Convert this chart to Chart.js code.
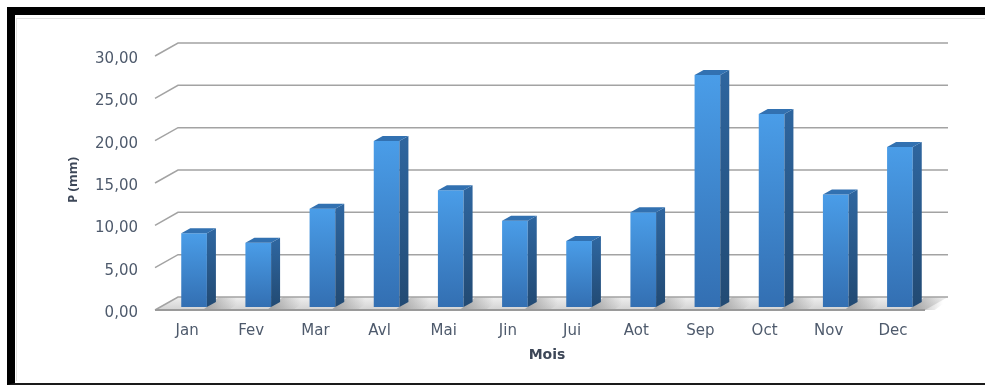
<!DOCTYPE html>
<html>
<head>
<meta charset="utf-8">
<script src="https://cdn.jsdelivr.net/npm/chart.js@4"></script>
<style>
  body { margin: 0; background: #fff; }
  #wrap { position: relative; width: 985px; height: 387px; overflow: hidden; }
  #chart { position: absolute; left: 0; top: 0; }
  #frame {
    position: absolute; left: 7px; top: 7px; width: 990px; height: 368px;
    border-top: 8px solid #000; border-left: 8px solid #000; border-bottom: 2px solid #1a1a1a;
    pointer-events: none;
  }
  #inner {
    position: absolute; left: 16px; top: 18px; right: 0; bottom: 6px;
    border-top: 1px solid #e2e2e2; border-left: 1px solid #e2e2e2;
    pointer-events: none;
  }
</style>
</head>
<body>
<div id="wrap">
  <canvas id="chart" width="985" height="387"></canvas>
  <div id="frame"></div>
  <div id="inner"></div>
</div>
<script>
const months = ['Jan', 'Fev', 'Mar', 'Avl', 'Mai', 'Jin', 'Jui', 'Aot', 'Sep', 'Oct', 'Nov', 'Dec'];
const rain = [8.7, 7.6, 11.6, 19.6, 13.8, 10.2, 7.8, 11.2, 27.4, 22.8, 13.3, 18.9];
const yTicks = [0, 5, 10, 15, 20, 25, 30];

// 3D look: bars sit mid-depth, labels on the front edge, gridlines on the back wall
const front = { dx: -7, dy: 3 };
const back = { dx: 16, dy: -10 };
const bar3d = { dx: 9, dy: -5 };

const fmtTick = (v) => Number(v).toFixed(2).replace('.', ',');
const tickColor = '#4e5a6c';
const titleColor = '#3d4758';

function poly(ctx, pts, fill) {
  ctx.beginPath();
  ctx.moveTo(pts[0][0], pts[0][1]);
  for (const p of pts.slice(1)) ctx.lineTo(p[0], p[1]);
  ctx.closePath();
  ctx.fillStyle = fill;
  ctx.fill();
}

const wallPlugin = {
  id: 'wall',
  beforeDatasetsDraw(chart) {
    const { ctx, chartArea: a, scales: { y } } = chart;
    const y0 = y.getPixelForValue(0);
    ctx.save();

    // floor
    const fl = [
      [a.left + front.dx, y0 + front.dy], [a.right + front.dx, y0 + front.dy],
      [a.right + back.dx, y0 + back.dy], [a.left + back.dx, y0 + back.dy],
    ];
    const fg = ctx.createLinearGradient(0, y0 + back.dy, 0, y0 + front.dy);
    fg.addColorStop(0, '#efefef');
    fg.addColorStop(1, '#d2d2d2');
    poly(ctx, fl, fg);

    // bar shadows falling on the floor
    const meta = chart.getDatasetMeta(0);
    meta.data.forEach((el) => {
      const r = el.x + el.width / 2;
      const sg = ctx.createLinearGradient(r, 0, r + 30, 0);
      sg.addColorStop(0, 'rgba(150,150,150,0.75)');
      sg.addColorStop(1, 'rgba(150,150,150,0)');
      poly(ctx, [[r - 4, y0 + front.dy], [r + 22, y0 + front.dy], [r + 40, y0 + back.dy], [r + 12, y0 + back.dy]], sg);
    });

    // gridlines on the back wall with the slanted side-wall stubs
    ctx.lineWidth = 1.5;
    ctx.strokeStyle = '#a3a3a3';
    for (const v of yTicks) {
      const yy = y.getPixelForValue(v);
      ctx.beginPath();
      ctx.moveTo(a.left + front.dx, yy + front.dy);
      ctx.lineTo(a.left + back.dx, yy + back.dy);
      ctx.lineTo(a.right + back.dx, yy + back.dy);
      ctx.stroke();
    }

    // floor front edge
    ctx.lineWidth = 2;
    ctx.strokeStyle = '#9a9a9a';
    ctx.beginPath();
    ctx.moveTo(a.left + front.dx, y0 + front.dy);
    ctx.lineTo(a.right + front.dx, y0 + front.dy);
    ctx.stroke();
    ctx.restore();
  },
  afterDatasetsDraw(chart) {
    const { ctx } = chart;
    ctx.save();
    chart.getDatasetMeta(0).data.forEach((el) => {
      const l = el.x - el.width / 2;
      const r = el.x + el.width / 2;
      const t = el.y;
      const b = el.base;
      const sg = ctx.createLinearGradient(0, t, 0, b);
      sg.addColorStop(0, '#2e659e');
      sg.addColorStop(1, '#224a73');
      poly(ctx, [[r, t], [r + bar3d.dx, t + bar3d.dy], [r + bar3d.dx, b + bar3d.dy], [r, b]], sg);
      poly(ctx, [[l, t], [l + bar3d.dx, t + bar3d.dy], [r + bar3d.dx, t + bar3d.dy], [r, t]], '#3271b1');
    });
    ctx.restore();
  },
};

function barFill(c) {
  const chart = c.chart;
  const y = chart.scales.y;
  if (!y || !chart.chartArea) return '#3f86d0';
  const top = y.getPixelForValue(c.raw);
  const bottom = y.getPixelForValue(0);
  const g = chart.ctx.createLinearGradient(0, top, 0, bottom);
  g.addColorStop(0, '#4a9de8');
  g.addColorStop(1, '#336fb2');
  return g;
}

new Chart(document.getElementById('chart'), {
  type: 'bar',
  data: {
    labels: months,
    datasets: [{
      data: rain,
      backgroundColor: barFill,
      borderWidth: 0,
      barPercentage: 0.4,
      categoryPercentage: 1,
    }],
  },
  options: {
    responsive: false,
    animation: false,
    layout: { padding: { left: 0, top: 53, right: 53, bottom: 0 } },
    plugins: { legend: { display: false }, tooltip: { enabled: false } },
    scales: {
      x: {
        grid: { display: false },
        border: { display: false },
        ticks: { color: tickColor, font: { family: 'DejaVu Sans', size: 15 }, padding: 7, labelOffset: -7 },
        title: { display: true, text: 'Mois', color: titleColor, font: { family: 'DejaVu Sans', size: 14, weight: 'bold' }, padding: { top: 2, bottom: 23 } },
        afterFit: (s) => { s.height = 80; },
      },
      y: {
        min: 0,
        max: 30,
        grid: { display: false },
        border: { display: false },
        ticks: { stepSize: 5, color: tickColor, font: { family: 'DejaVu Sans', size: 15 }, padding: 16, labelOffset: 6, callback: fmtTick },
        title: { display: true, text: 'P (mm)', color: titleColor, font: { family: 'Open Sans', size: 13, weight: 'bold' }, padding: { top: 65, bottom: 0 } },
        afterFit: (s) => { s.width = 162; },
      },
    },
  },
  plugins: [wallPlugin],
});
</script>
</body>
</html>
